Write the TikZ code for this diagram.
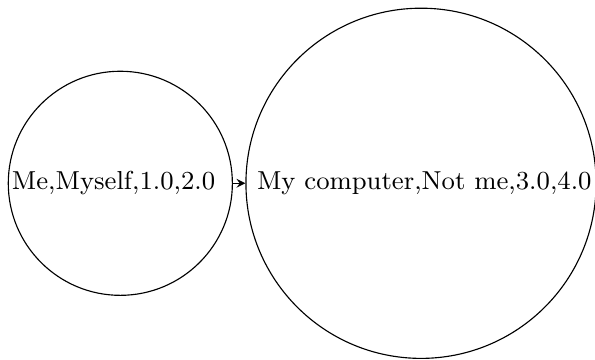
\documentclass[tikz,border=0pt]{standalone}
\usetikzlibrary{arrows}
\begin{document}
\begin{tikzpicture}[scale=1.0,>=stealth]
\tikzset{entity/.style={draw,circle,inner sep=0pt,font=\fontsize{9.2pt}{11pt}\selectfont}}
\useasboundingbox (0,0) rectangle (7.408,4.482);
\node[entity,minimum size=2.79cm] (me) at (1.498,2.2) {Me,Myself,1.0,2.0\kern4.8pt};
\node[entity,minimum size=4.36cm] (pc) at (5.242,2.2) {\kern2.3pt My computer,Not me,3.0,4.0};
\draw[->] (me) -- (pc);
\end{tikzpicture}
\end{document}
